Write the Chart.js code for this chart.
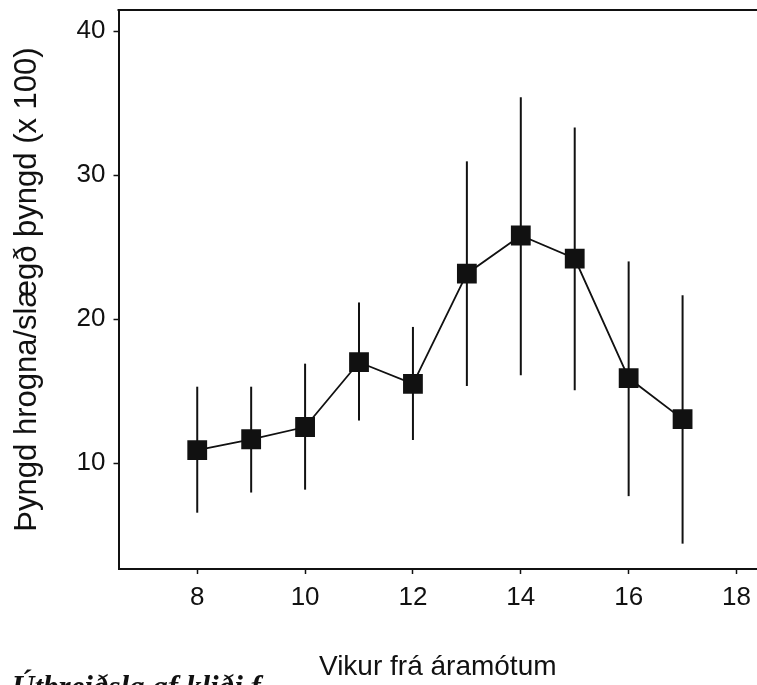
<!DOCTYPE html>
<html>
<head>
<meta charset="utf-8">
<script src="https://cdn.jsdelivr.net/npm/chart.js@4.4.0/dist/chart.umd.min.js"></script>
<style>
    html, body {
        margin: 0;
        padding: 0;
        background: #fff;
        overflow: hidden;
    }
    #wrap {
        position: relative;
        width: 757px;
        height: 685px;
    }
</style>
</head>
<body>
<div id="wrap"><canvas id="roe_ratio"></canvas></div>
<script>
// weeks from new year, mean roe/gutted weight ratio and the bar ends
const weeks = [8, 9, 10, 11, 12, 13, 14, 15, 16, 17];
const ratio = [10.9, 11.65, 12.5, 17.0, 15.5, 23.15, 25.8, 24.2, 15.9, 13.05];
const barLow = [6.55, 7.95, 8.15, 12.95, 11.6, 15.35, 16.1, 15.05, 7.7, 4.4];
const barHigh = [15.3, 15.3, 16.9, 21.15, 19.45, 30.95, 35.4, 33.3, 24.0, 21.65];
const xTicks = [8, 10, 12, 14, 16, 18];
const yTicks = [10, 20, 30, 40];

const caption = 'Útbreiðsla af kliði f';

const ink = '#111';

const errorBars = {
    id: 'errorBars',
    beforeDatasetsDraw(chart) {
        const ctx = chart.ctx;
        const xs = chart.scales.x;
        const ys = chart.scales.y;
        ctx.save();
        ctx.strokeStyle = ink;
        ctx.lineWidth = 2;
        weeks.forEach((w, i) => {
            const x = xs.getPixelForValue(w);
            ctx.beginPath();
            ctx.moveTo(x, ys.getPixelForValue(barLow[i]));
            ctx.lineTo(x, ys.getPixelForValue(barHigh[i]));
            ctx.stroke();
        });
        ctx.restore();
    },
};

// top edge of the frame, plus the cut-off caption line below the plot
const frameTop = {
    id: 'frameTop',
    afterDraw(chart) {
        const ctx = chart.ctx;
        const area = chart.chartArea;
        ctx.save();
        ctx.strokeStyle = ink;
        ctx.lineWidth = 2;
        ctx.beginPath();
        ctx.moveTo(area.left - 1, area.top);
        ctx.lineTo(chart.width, area.top);
        ctx.stroke();
        ctx.fillStyle = ink;
        ctx.font = 'italic bold 31px "Liberation Serif", serif';
        ctx.textBaseline = 'alphabetic';
        ctx.fillText(caption, 12, 697);
        ctx.restore();
    },
};

// no extra room for the end tick labels
function noPadding(scale) {
    scale.paddingTop = 0;
    scale.paddingBottom = 0;
    scale.paddingLeft = 0;
    scale.paddingRight = 0;
}

const ctx = document.getElementById('roe_ratio');
const myChart = new Chart(ctx, {
    type: 'line',
    data: {
        datasets: [
            {
                data: weeks.map((w, i) => ({ x: w, y: ratio[i] })),
                borderColor: ink,
                borderWidth: 1.8,
                backgroundColor: ink,
                pointStyle: 'rect',
                pointRadius: 14,
                pointBorderWidth: 0,
                pointBackgroundColor: ink,
                tension: 0,
                fill: false,
            },
        ],
    },
    options: {
        responsive: true,
        maintainAspectRatio: false,
        animation: false,
        events: [],
        layout: {
            autoPadding: false,
            padding: { top: 10, right: 0, bottom: 0, left: 0 },
        },
        plugins: {
            legend: { display: false },
            tooltip: { enabled: false },
        },
        scales: {
            x: {
                type: 'linear',
                min: 6.54,
                max: 18.38,
                afterBuildTicks: (scale) => {
                    scale.ticks = xTicks.map((v) => ({ value: v }));
                },
                afterFit: (scale) => {
                    scale.height = 116;
                    noPadding(scale);
                },
                grid: {
                    drawOnChartArea: false,
                    drawTicks: true,
                    tickLength: 5,
                    tickWidth: 1.5,
                    tickColor: ink,
                },
                border: { display: true, color: ink, width: 2 },
                ticks: {
                    color: ink,
                    padding: 8,
                    maxRotation: 0,
                    font: { family: '"Liberation Sans", Arial, sans-serif', size: 26 },
                },
                title: {
                    display: true,
                    text: 'Vikur frá áramótum',
                    color: ink,
                    padding: { top: 0, bottom: 1 },
                    font: { family: '"Liberation Sans", Arial, sans-serif', size: 28 },
                },
            },
            y: {
                min: 2.64,
                max: 41.46,
                afterBuildTicks: (scale) => {
                    scale.ticks = yTicks.map((v) => ({ value: v }));
                },
                afterFit: (scale) => {
                    scale.width = 118.5;
                    noPadding(scale);
                },
                grid: {
                    drawOnChartArea: false,
                    drawTicks: true,
                    tickLength: 5,
                    tickWidth: 1.5,
                    tickColor: ink,
                },
                border: { display: true, color: ink, width: 2 },
                ticks: {
                    color: ink,
                    padding: 8,
                    font: { family: '"Liberation Sans", Arial, sans-serif', size: 26 },
                },
                title: {
                    display: true,
                    text: 'Þyngd hrogna/slægð þyngd (x 100)',
                    color: ink,
                    padding: { top: 9, bottom: 0 },
                    font: { family: '"Liberation Sans", Arial, sans-serif', size: 31 },
                },
            },
        },
    },
    plugins: [errorBars, frameTop],
});
</script>
</body>
</html>
